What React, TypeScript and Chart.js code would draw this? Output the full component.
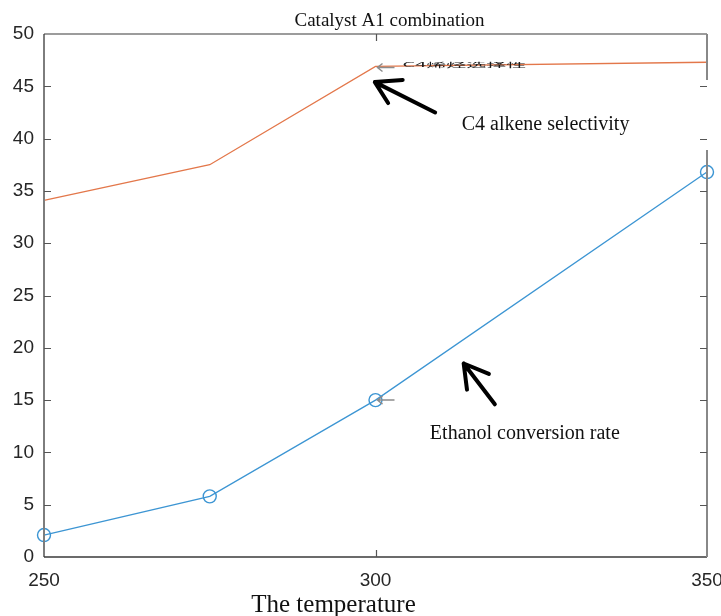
import React, { useEffect, useRef } from "react";
import { Chart, registerables } from "chart.js";

Chart.register(...registerables);

// Reaction temperature (°C)
const temperatures = [250, 275, 300, 350];
// C4 alkene selectivity (%)
const c4Selectivity = [34.1, 37.5, 46.9, 47.3];
// Ethanol conversion rate (%)
const ethanolConversion = [2.1, 5.8, 15.0, 36.8];

const xTickValues = [250, 300, 350];
const yTickValues = [0, 5, 10, 15, 20, 25, 30, 35, 40, 45, 50];

const chartTitle = "Catalyst A1 combination";
const xAxisTitle = "The temperature";
const selectivityNote = "C4 alkene selectivity";
const conversionNote = "Ethanol conversion rate";
const selectivityTag = "C4烯烃选择性";

const SERIF = "'Liberation Serif', 'Times New Roman', serif";
const SANS = "'Liberation Sans', Arial, sans-serif";

type Pt = [number, number];

// Call-out arrows, in data coordinates: tip, tail, and the two head strokes
const arrows: { tip: Pt; tail: Pt; wings: [Pt, Pt] }[] = [
  { tip: [299.9, 45.4], tail: [309.0, 42.5], wings: [[304.1, 45.6], [301.9, 43.4]] },
  { tip: [313.3, 18.5], tail: [318.0, 14.6], wings: [[317.1, 17.5], [313.8, 16.0]] },
];

const decorations = {
  id: "decorations",
  afterDatasetsDraw(chart: any) {
    const { ctx, chartArea: a, scales } = chart;
    const xs = scales.x;
    const ys = scales.y;
    const px = (v: number) => xs.getPixelForValue(v);
    const py = (v: number) => ys.getPixelForValue(v);

    ctx.save();
    ctx.lineCap = "butt";

    // axes box
    ctx.strokeStyle = "#7d7d7d";
    ctx.lineWidth = 2;
    ctx.beginPath();
    ctx.moveTo(a.left, a.top);
    ctx.lineTo(a.left, a.bottom);
    ctx.stroke();

    ctx.strokeStyle = "#3a3a3a";
    ctx.lineWidth = 1.5;
    ctx.beginPath();
    ctx.moveTo(a.left, a.bottom);
    ctx.lineTo(a.right, a.bottom);
    ctx.stroke();

    ctx.lineWidth = 1.2;
    ctx.beginPath();
    ctx.moveTo(a.left, a.top);
    ctx.lineTo(a.right, a.top);
    ctx.stroke();

    // right edge, interrupted behind the upper note
    ctx.strokeStyle = "#888888";
    ctx.lineWidth = 2;
    ctx.beginPath();
    ctx.moveTo(a.right, a.top);
    ctx.lineTo(a.right, py(45.6));
    ctx.moveTo(a.right, py(38.9));
    ctx.lineTo(a.right, a.bottom);
    ctx.stroke();

    // inward tick marks
    ctx.strokeStyle = "#555555";
    ctx.lineWidth = 1.2;
    ctx.beginPath();
    yTickValues.slice(1, -1).forEach((v) => {
      const y = Math.round(py(v)) + 0.5;
      ctx.moveTo(a.left, y);
      ctx.lineTo(a.left + 7, y);
      ctx.moveTo(a.right, y);
      ctx.lineTo(a.right - 7, y);
    });
    xTickValues.slice(1, -1).forEach((v) => {
      const x = Math.round(px(v)) + 0.5;
      ctx.moveTo(x, a.bottom);
      ctx.lineTo(x, a.bottom - 7);
      ctx.moveTo(x, a.top);
      ctx.lineTo(x, a.top + 7);
    });
    ctx.stroke();

    // small grey pointers at the 300 °C points
    ctx.strokeStyle = "#8c8c8c";
    ctx.lineWidth = 1.5;
    [c4Selectivity[2] - 0.1, ethanolConversion[2]].forEach((v) => {
      const x0 = px(300) + 2;
      const y = py(v);
      ctx.beginPath();
      ctx.moveTo(x0 + 17, y);
      ctx.lineTo(x0, y);
      ctx.moveTo(x0 + 5, y - 4);
      ctx.lineTo(x0, y);
      ctx.lineTo(x0 + 5, y + 4);
      ctx.stroke();
    });

    // squashed tag next to the selectivity curve
    ctx.fillStyle = "#1a1a1a";
    ctx.font = "20px 'Noto Sans CJK SC', sans-serif";
    ctx.textAlign = "left";
    ctx.textBaseline = "middle";
    ctx.save();
    ctx.translate(px(300) + 27, py(47.1));
    ctx.scale(1, 0.3);
    ctx.fillText(selectivityTag, 0, 0);
    ctx.restore();

    // black call-out arrows
    ctx.strokeStyle = "#000000";
    ctx.lineWidth = 4;
    ctx.lineCap = "round";
    ctx.lineJoin = "round";
    arrows.forEach(({ tip, tail, wings }) => {
      ctx.beginPath();
      ctx.moveTo(px(tail[0]), py(tail[1]));
      ctx.lineTo(px(tip[0]), py(tip[1]));
      ctx.moveTo(px(wings[0][0]), py(wings[0][1]));
      ctx.lineTo(px(tip[0]), py(tip[1]));
      ctx.lineTo(px(wings[1][0]), py(wings[1][1]));
      ctx.stroke();
    });

    // notes
    ctx.fillStyle = "#111111";
    ctx.font = `20px ${SERIF}`;
    ctx.textBaseline = "alphabetic";
    ctx.textAlign = "left";
    ctx.fillText(selectivityNote, px(313.0), py(40.8));
    ctx.fillText(conversionNote, px(308.2), py(11.3));

    // title and x-axis label
    ctx.textAlign = "center";
    ctx.font = `19px ${SERIF}`;
    ctx.fillText(chartTitle, (a.left + a.right) / 2 + 14, 25.5);
    ctx.font = `25px ${SERIF}`;
    ctx.fillText(xAxisTitle, (a.left + a.right) / 2 - 42, 612);

    ctx.restore();
  },
};

export default function App() {
  const canvasRef = useRef<HTMLCanvasElement | null>(null);

  useEffect(() => {
    if (!canvasRef.current) return;
    const chart = new Chart(canvasRef.current, {
      type: "line",
      data: {
        datasets: [
          {
            label: "C4 alkene selectivity",
            data: temperatures.map((t, i) => ({ x: t, y: c4Selectivity[i] })),
            borderColor: "#E3774A",
            borderWidth: 1.3,
            pointRadius: 0,
            tension: 0,
            clip: false as any,
          },
          {
            label: "Ethanol conversion rate",
            data: temperatures.map((t, i) => ({ x: t, y: ethanolConversion[i] })),
            borderColor: "#3C95D3",
            borderWidth: 1.3,
            pointRadius: 6.5,
            pointStyle: "circle",
            pointBackgroundColor: "rgba(0,0,0,0)",
            pointBorderColor: "#3C95D3",
            pointBorderWidth: 1.4,
            tension: 0,
            clip: false as any,
          },
        ],
      },
      options: {
        animation: false,
        responsive: false,
        devicePixelRatio: 1,
        layout: { padding: { left: 0, right: 14, top: 34, bottom: 0 } },
        plugins: {
          legend: { display: false },
          tooltip: { enabled: false },
          title: { display: false },
        },
        scales: {
          x: {
            type: "linear",
            min: 250,
            max: 350,
            grid: { display: false, drawTicks: false },
            border: { display: false },
            afterBuildTicks: (s: any) => {
              s.ticks = xTickValues.map((v) => ({ value: v }));
            },
            afterFit: (s: any) => {
              s.height = 59;
              s.paddingLeft = 0;
              s.paddingRight = 0;
            },
            ticks: {
              padding: 12,
              color: "#262626",
              font: { family: SANS, size: 19 },
              maxRotation: 0,
              autoSkip: false,
            },
          },
          y: {
            type: "linear",
            min: 0,
            max: 50,
            grid: { display: false, drawTicks: false },
            border: { display: false },
            afterBuildTicks: (s: any) => {
              s.ticks = yTickValues.map((v) => ({ value: v }));
            },
            afterFit: (s: any) => {
              s.width = 44;
              s.paddingTop = 0;
              s.paddingBottom = 0;
            },
            ticks: {
              padding: 10,
              color: "#262626",
              font: { family: SANS, size: 19 },
              autoSkip: false,
            },
          },
        },
      },
      plugins: [decorations],
    });
    return () => chart.destroy();
  }, []);

  return (
    <div
      style={{
        position: "fixed",
        left: 0,
        top: 0,
        width: 721,
        height: 616,
        background: "#ffffff",
      }}
    >
      <canvas ref={canvasRef} width={721} height={616} />
    </div>
  );
}
